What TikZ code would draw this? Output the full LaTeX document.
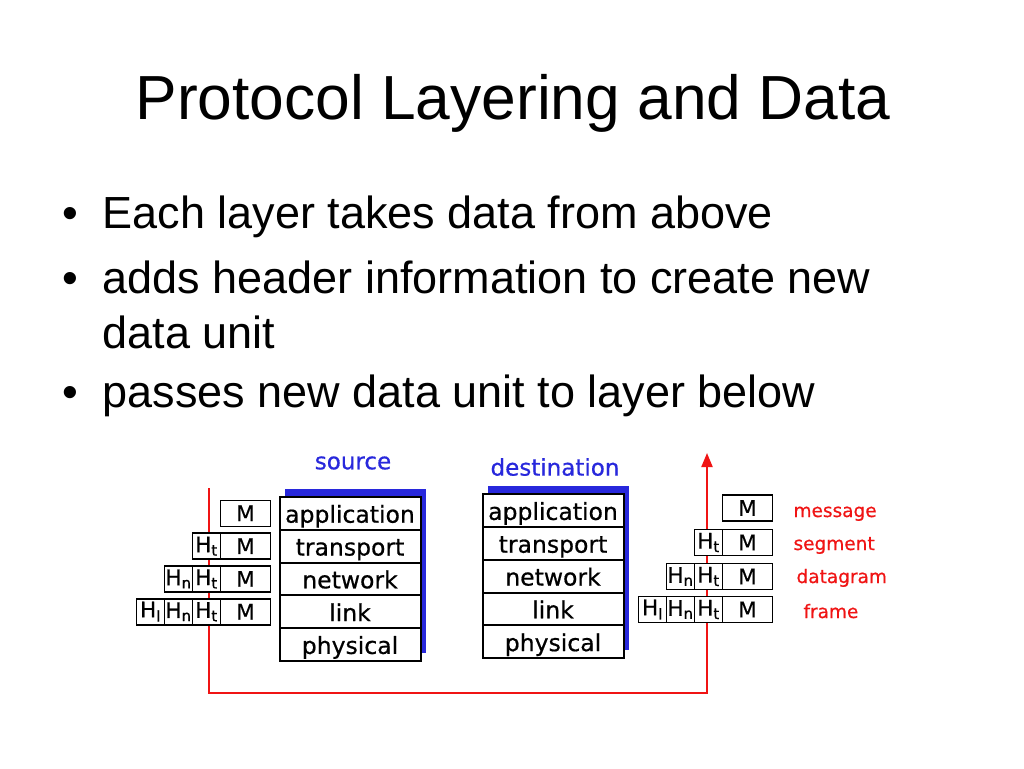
\documentclass[tikz,border=0pt]{standalone}
\usepackage{fontspec}
\setmainfont{Liberation Sans}
\newfontfamily\diagfont[FakeBold=0.6]{DejaVu Sans}
\usetikzlibrary{
    arrows.meta,
    positioning,
    backgrounds
}
\definecolor{stackblue}{RGB}{40,40,220}
\definecolor{unitred}{RGB}{240,20,20}

\tikzset{
    layer/.style={draw, line width=2pt, fill=white, outer sep=0pt, inner sep=0pt,
        minimum width=141pt, minimum height=32.8pt, text height=20pt, text depth=1.2pt,
        font=\diagfont\fontsize{23.5}{23.5}\selectfont},
    hdr/.style={draw, line width=1.6pt, fill=white, outer sep=0pt, inner sep=0pt,
        minimum width=28pt, minimum height=26pt,
        font=\diagfont\fontsize{21.5}{21.5}\selectfont},
    msg/.style={hdr, minimum width=50pt},
    stacklabel/.style={text=stackblue, font=\diagfont\fontsize{23}{23}\selectfont},
    unitlabel/.style={anchor=base west, text=unitred, font=\diagfont\fontsize{18.5}{18.5}\selectfont},
    bullet/.style={anchor=base west, font=\fontsize{45}{45}\selectfont}
}

\begin{document}
\begin{tikzpicture}[x=1pt, y=-1pt]
    \useasboundingbox (0,0) rectangle (1024,768);

    \node[anchor=base west, font=\fontsize{62.3}{62.3}\selectfont] (title) at (132,119) {Protocol Layering and Data};

    \node[bullet] (b1) at (59,228) {\textbullet};
    \node[bullet] (t1) at (99,228) {Each layer takes data from above};
    \node[bullet] (b2) at (59,293) {\textbullet};
    \node[bullet] (t2) at (99,293) {adds header information to create new};
    \node[bullet] (t2b) at (99,348) {data unit};
    \node[bullet] (b3) at (59,407) {\textbullet};
    \node[bullet] (t3) at (99,407) {passes new data unit to layer below};

    % path of the data
    \coordinate (srcup) at (209,488);
    \coordinate (srcdn) at (209,693);
    \coordinate (dstdn) at (707,693);
    \coordinate (dstup) at (707,453);
    \draw[unitred, line width=2pt, -{Triangle[width=11pt, length=14pt]}]
        (srcup) -- (srcdn) -- (dstdn) -- (dstup);

    % source stack
    \node[stacklabel] (src) at (353,463) {source};
    \node[layer] (sapp) at (350,513.3) {application};
    \node[layer, below=0pt of sapp] (strn) {transport};
    \node[layer, below=0pt of strn] (snet) {network};
    \node[layer, below=0pt of snet] (slnk) {link};
    \node[layer, below=0pt of slnk] (sphy) {physical};

    % destination stack
    \node[stacklabel] (dst) at (555,467) {destination};
    \node[layer] (dapp) at (553,510.5) {application};
    \node[layer, below=0pt of dapp] (dtrn) {transport};
    \node[layer, below=0pt of dtrn] (dnet) {network};
    \node[layer, below=0pt of dnet] (dlnk) {link};
    \node[layer, below=0pt of dlnk] (dphy) {physical};

    \begin{scope}[on background layer]
        \fill[white] (0,0) rectangle (1024,768);
        \fill[stackblue] ([shift={(5.5,-8)}]sapp.north west) rectangle ([shift={(5.5,-8)}]sphy.south east);
        \fill[stackblue] ([shift={(5.5,-8)}]dapp.north west) rectangle ([shift={(5.5,-8)}]dphy.south east);
    \end{scope}

    % units going down
    \node[msg, left=9pt of sapp] (sm1) {M};
    \node[msg, left=9pt of strn] (sm2) {M};
    \node[hdr, left=0pt of sm2] (st2) {H\textsubscript{t}};
    \node[msg, left=9pt of snet] (sm3) {M};
    \node[hdr, left=0pt of sm3] (st3) {H\textsubscript{t}};
    \node[hdr, left=0pt of st3] (sn3) {H\textsubscript{n}};
    \node[msg, left=9pt of slnk] (sm4) {M};
    \node[hdr, left=0pt of sm4] (st4) {H\textsubscript{t}};
    \node[hdr, left=0pt of st4] (sn4) {H\textsubscript{n}};
    \node[hdr, left=0pt of sn4] (sl4) {H\textsubscript{l}};

    % units going up
    \node[msg] (dm1) at (747.5,508) {M};
    \node[msg] (dm2) at (747.5,542.5) {M};
    \node[hdr, left=0pt of dm2] (dt2) {H\textsubscript{t}};
    \node[msg] (dm3) at (747.5,576.5) {M};
    \node[hdr, left=0pt of dm3] (dt3) {H\textsubscript{t}};
    \node[hdr, left=0pt of dt3] (dn3) {H\textsubscript{n}};
    \node[msg] (dm4) at (747.5,609.5) {M};
    \node[hdr, left=0pt of dm4] (dt4) {H\textsubscript{t}};
    \node[hdr, left=0pt of dt4] (dn4) {H\textsubscript{n}};
    \node[hdr, left=0pt of dn4] (dl4) {H\textsubscript{l}};

    \node[unitlabel] (message) at (790,517) {message};
    \node[unitlabel] (segment) at (790,550) {segment};
    \node[unitlabel] (datagram) at (793,583) {datagram};
    \node[unitlabel] (frame) at (800,618) {frame};
\end{tikzpicture}
\end{document}
